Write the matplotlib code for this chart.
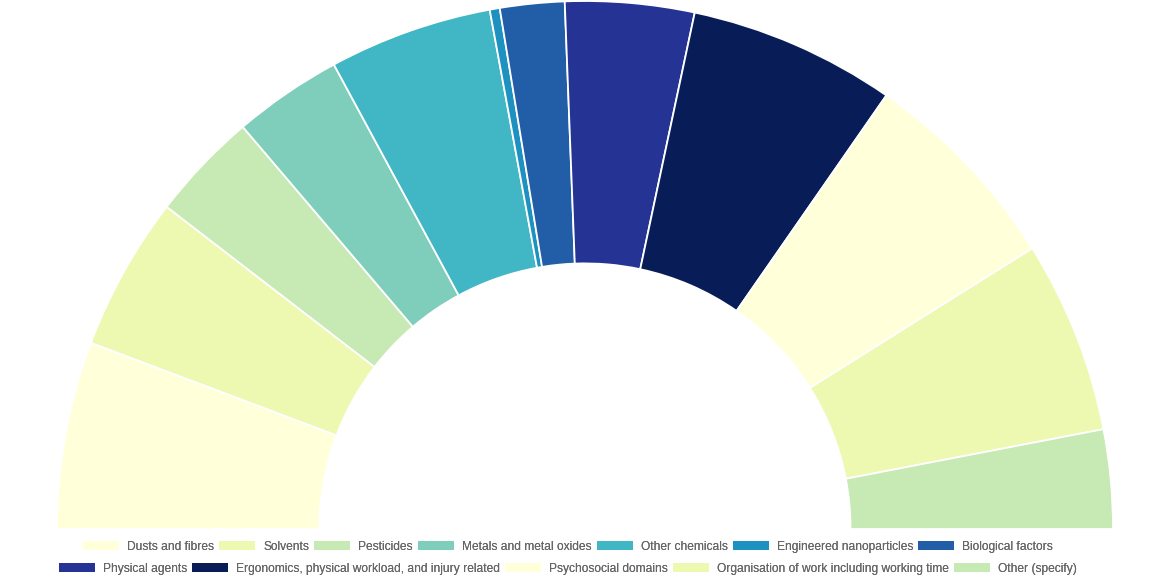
import matplotlib
matplotlib.use("Agg")
import matplotlib.pyplot as plt
from matplotlib.patches import Patch

labels = [
    "Dusts and fibres",
    "Solvents",
    "Pesticides",
    "Metals and metal oxides",
    "Other chemicals",
    "Engineered nanoparticles",
    "Biological factors",
    "Physical agents",
    "Ergonomics, physical workload, and injury related",
    "Psychosocial domains",
    "Organisation of work including working time",
    "Other (specify)",
]
values = [20.65, 16.95, 12.0, 12.0, 18.0, 1.1, 7.1, 14.2, 22.8, 23.1, 21.2, 10.9]
colors = [
    "#ffffd9", "#edf8b1", "#c7e9b4", "#7fcdbb", "#41b6c4", "#1d91c0",
    "#225ea8", "#253494", "#081d58", "#ffffd9", "#edf8b1", "#c7e9b4",
]

plt.rcParams["font.family"] = ["Liberation Sans", "DejaVu Sans"]

W, H = 1170, 585
fig = plt.figure(figsize=(W / 100, H / 100), dpi=100)

# donut centre / radius in pixels
cx, cy, R = 585, 529, 528
ax = fig.add_axes([(cx - R) / W, (H - cy) / H, 2 * R / W, R / H])

# half donut: add a hidden wedge equal to the total for the bottom half
wedges, _ = ax.pie(
    values + [sum(values)],
    colors=colors + ["white"],
    startangle=180,
    counterclock=False,
    radius=1,
    wedgeprops=dict(width=0.497, edgecolor="white", linewidth=1.3),
)
wedges[-1].set_visible(False)
ax.set_aspect("auto")
ax.set_xlim(-1, 1)
ax.set_ylim(0, 1)
ax.axis("off")

handles = [Patch(facecolor=c, edgecolor="none") for c in colors]
rows = [(0, 7, 547), (7, 12, 569)]
for a, b, y in rows:
    leg = fig.legend(
        handles[a:b], labels[a:b],
        loc="center", bbox_to_anchor=(568 / W, 1 - y / H),
        ncol=b - a, frameon=False,
        fontsize=8.64, labelcolor="#666666",
        handlelength=3.0, handleheight=0.78, handletextpad=0.65,
        columnspacing=0.45, borderpad=0, borderaxespad=0,
    )
    fig.add_artist(leg)

fig.savefig("out.png", dpi=100)
